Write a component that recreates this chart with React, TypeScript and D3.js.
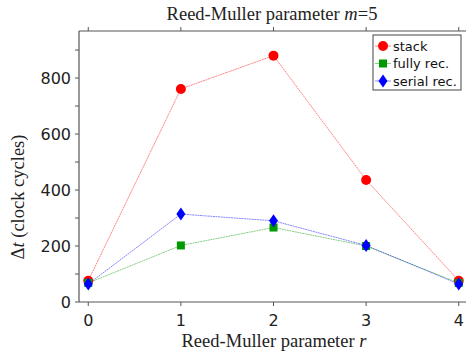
import React, { useRef, useEffect } from 'react';
import * as d3 from 'd3';

const rValues = [0, 1, 2, 3, 4];
const stack = [76, 761, 880, 436, 76];
const fullyRec = [68, 202, 266, 200, 68];
const serialRec = [64, 314, 290, 202, 64];
const yTickLabels = [0, 200, 400, 600, 800];
const yMinorTicks = [0, 100, 200, 300, 400, 500, 600, 700, 800, 900];

const series = [
    { name: 'stack', values: stack, color: '#ff0000', shape: 'circle' },
    { name: 'fully rec.', values: fullyRec, color: '#009a00', shape: 'square' },
    { name: 'serial rec.', values: serialRec, color: '#0000ff', shape: 'diamond' },
];

const App: React.FC = () => {
    const svgRef = useRef<SVGSVGElement | null>(null);
    const width = 466, height = 352;
    const m = { left: 79, top: 31, bottom: 302, right: 468 };

    useEffect(() => {
        if (!svgRef.current) return;
        const svg = d3.select(svgRef.current);
        svg.selectAll('*').remove();

        const x = d3.scaleLinear().domain([-0.1, 4.1]).range([m.left, m.right]);
        const y = d3.scaleLinear().domain([0, 968]).range([m.bottom, m.top]);
        const axisColor = '#555';
        const sans = 'DejaVu Sans, sans-serif';
        const serif = 'Liberation Serif, serif';

        svg.append('rect').attr('width', width).attr('height', height).attr('fill', 'white');

        // frame
        svg.append('line').attr('x1', m.left).attr('x2', m.right).attr('y1', m.bottom).attr('y2', m.bottom)
            .attr('stroke', axisColor).attr('stroke-width', 1.2);
        svg.append('line').attr('x1', m.left).attr('x2', m.right).attr('y1', m.top).attr('y2', m.top)
            .attr('stroke', axisColor).attr('stroke-width', 1.2);
        svg.append('line').attr('x1', m.left).attr('x2', m.left).attr('y1', m.top).attr('y2', m.bottom)
            .attr('stroke', axisColor).attr('stroke-width', 1.2);

        // x ticks (bottom and top, outward)
        rValues.forEach(v => {
            svg.append('line').attr('x1', x(v)).attr('x2', x(v)).attr('y1', m.bottom).attr('y2', m.bottom + 4)
                .attr('stroke', axisColor);
            svg.append('line').attr('x1', x(v)).attr('x2', x(v)).attr('y1', m.top).attr('y2', m.top - 4)
                .attr('stroke', axisColor);
            svg.append('text').attr('x', x(v)).attr('y', m.bottom + 24).attr('text-anchor', 'middle')
                .attr('font-family', sans).attr('font-size', 16).attr('fill', '#222').text(v);
        });

        // y ticks
        yMinorTicks.forEach(v => {
            svg.append('line').attr('x1', m.left - 4).attr('x2', m.left).attr('y1', y(v)).attr('y2', y(v))
                .attr('stroke', axisColor);
        });
        yTickLabels.forEach(v => {
            svg.append('text').attr('x', m.left - 8).attr('y', y(v)).attr('dy', '0.36em').attr('text-anchor', 'end')
                .attr('font-family', sans).attr('font-size', 16).attr('fill', '#222').text(v);
        });

        // title and labels
        const title = svg.append('text').attr('x', 272).attr('y', 20).attr('text-anchor', 'middle')
            .attr('font-family', serif).attr('font-size', 18.5).attr('fill', '#222');
        title.append('tspan').text('Reed-Muller parameter ');
        title.append('tspan').attr('font-style', 'italic').text('m');
        title.append('tspan').text('=5');

        const xl = svg.append('text').attr('x', 274).attr('y', 347).attr('text-anchor', 'middle')
            .attr('font-family', serif).attr('font-size', 18.5).attr('fill', '#222');
        xl.append('tspan').text('Reed-Muller parameter ');
        xl.append('tspan').attr('font-style', 'italic').text('r');

        const yl = svg.append('text').attr('transform', 'translate(24, 197) rotate(-90)')
            .attr('text-anchor', 'middle').attr('font-family', serif).attr('font-size', 18.5).attr('fill', '#222');
        yl.append('tspan').text('Δ');
        yl.append('tspan').attr('font-style', 'italic').text('t');
        yl.append('tspan').text(' (clock cycles)');

        const drawMarker = (g: any, shape: string, cx: number, cy: number, color: string) => {
            if (shape === 'circle') {
                g.append('circle').attr('cx', cx).attr('cy', cy).attr('r', 5).attr('fill', color);
            } else if (shape === 'square') {
                g.append('rect').attr('x', cx - 4).attr('y', cy - 4).attr('width', 8).attr('height', 8).attr('fill', color);
            } else {
                g.append('path').attr('d', `M${cx},${cy - 6.5}L${cx + 4.5},${cy}L${cx},${cy + 6.5}L${cx - 4.5},${cy}Z`)
                    .attr('fill', color);
            }
        };

        const line = d3.line<number>().x((_, i) => x(rValues[i])).y(d => y(d));
        const plot = svg.append('g');
        series.forEach(s => {
            plot.append('path').attr('d', line(s.values)).attr('fill', 'none')
                .attr('stroke', s.color).attr('stroke-width', 0.8).attr('stroke-opacity', 0.6)
                .attr('stroke-dasharray', '2,0.6');
        });
        series.forEach(s => {
            s.values.forEach((v, i) => drawMarker(plot, s.shape, x(rValues[i]), y(v), s.color));
        });

        // legend
        const lg = svg.append('g');
        lg.append('rect').attr('x', 373).attr('y', 35).attr('width', 88).attr('height', 55)
            .attr('fill', 'white').attr('stroke', '#444').attr('stroke-width', 1);
        series.forEach((s, i) => {
            const ly = 46 + i * 17.5;
            lg.append('line').attr('x1', 375).attr('x2', 391).attr('y1', ly).attr('y2', ly)
                .attr('stroke', s.color).attr('stroke-width', 0.8).attr('stroke-opacity', 0.6);
            drawMarker(lg, s.shape, 383, ly, s.color);
            lg.append('text').attr('x', 393).attr('y', ly).attr('dy', '0.36em')
                .attr('font-family', sans).attr('font-size', 13).attr('fill', '#111').text(s.name);
        });
    }, []);

    return <svg ref={svgRef} width={width} height={height} style={{ position: 'absolute', left: 0, top: 0 }}></svg>;
};

export default App;
